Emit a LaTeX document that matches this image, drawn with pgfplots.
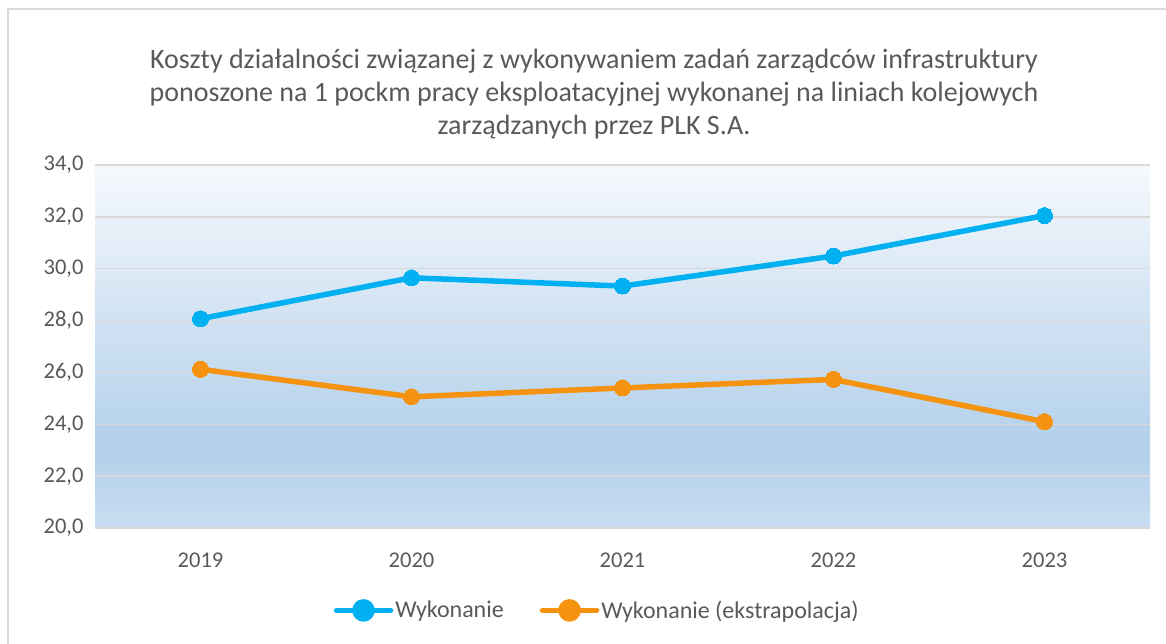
\documentclass[border=0pt]{standalone}
\usepackage{pgfplots}
\pgfplotsset{compat=1.18}
\usepackage{fontspec}
\setmainfont{Carlito}
\definecolor{txt}{HTML}{595959}
\definecolor{gridc}{HTML}{D9D9D9}
\definecolor{bluel}{HTML}{00B0F0}
\definecolor{orangel}{HTML}{F5920F}
\definecolor{shA}{HTML}{C8DDF1}
\definecolor{shB}{HTML}{B2D0EA}
\definecolor{shD}{HTML}{F6F9FD}
\pgfdeclareverticalshading{bgshade}{100bp}{
  color(0bp)=(shA);
  color(25bp)=(shA);
  color(36bp)=(shB);
  color(75bp)=(shD);
  color(100bp)=(shD)}
\begin{document}
\begin{tikzpicture}
\useasboundingbox (0pt,0pt) rectangle (1166pt,644pt);
\draw[gridc,line width=1.5pt] (8pt,0pt) -- (8pt,635pt) -- (1166pt,635pt);
\node[align=center,text=txt,font=\fontsize{28}{33}\selectfont] at (594pt,550pt)
 {Koszty działalności związanej z wykonywaniem zadań zarządców infrastruktury\\
  ponoszone na 1 pockm pracy eksploatacyjnej wykonanej na liniach kolejowych\\
  zarządzanych przez PLK S.A.};
\begin{axis}[
  at={(95pt,116pt)}, anchor=south west,
  scale only axis, width=1055pt, height=363pt,
  xmin=-0.5, xmax=4.5, ymin=20, ymax=34,
  ytick={20,22,...,34},
  xtick={0,1,2,3,4},
  xticklabels={2019,2020,2021,2022,2023},
  axis line style={draw=none},
  tick style={draw=none},
  ymajorgrids, grid style={gridc,line width=1.5pt},
  ticklabel style={text=txt,font=\fontsize{22.5}{26}\selectfont},
  yticklabel style={xshift=-8pt},
  /pgf/number format/.cd,fixed,fixed zerofill,precision=1,use comma,assume math mode=true,
  /pgfplots/.cd,
  xticklabel style={yshift=-21pt},
  axis background/.style={shading=bgshade},
  legend style={at={(0.476,-0.227)},anchor=center,draw=none,fill=none,
    legend columns=2,font=\fontsize{24}{28}\selectfont,text=txt,
    /tikz/every even column/.append style={column sep=34pt},
    /tikz/every odd column/.append style={column sep=0pt}},
  legend cell align=left,
  legend image code/.code={
    \draw[#1,line width=5.5pt,line cap=round] (0pt,0pt) -- (54pt,0pt);
    \fill[#1] (27pt,0pt) circle (8.5pt);},
  clip=false,
]
\draw[gridc,line width=1.5pt] (axis cs:-0.5,20) -- (axis cs:4.5,20);
\addplot[bluel,line width=5.5pt,mark=*,mark size=8pt,mark options={solid,fill=bluel,draw=bluel,line width=0pt}]
 coordinates {(0,28.07) (1,29.65) (2,29.33) (3,30.49) (4,32.05)};
\addlegendentry{Wykonanie}
\addplot[orangel,line width=5.5pt,mark=*,mark size=8pt,mark options={solid,fill=orangel,draw=orangel,line width=0pt}]
 coordinates {(0,26.12) (1,25.06) (2,25.40) (3,25.73) (4,24.10)};
\addlegendentry{Wykonanie (ekstrapolacja)}
\end{axis}
\end{tikzpicture}
\end{document}
